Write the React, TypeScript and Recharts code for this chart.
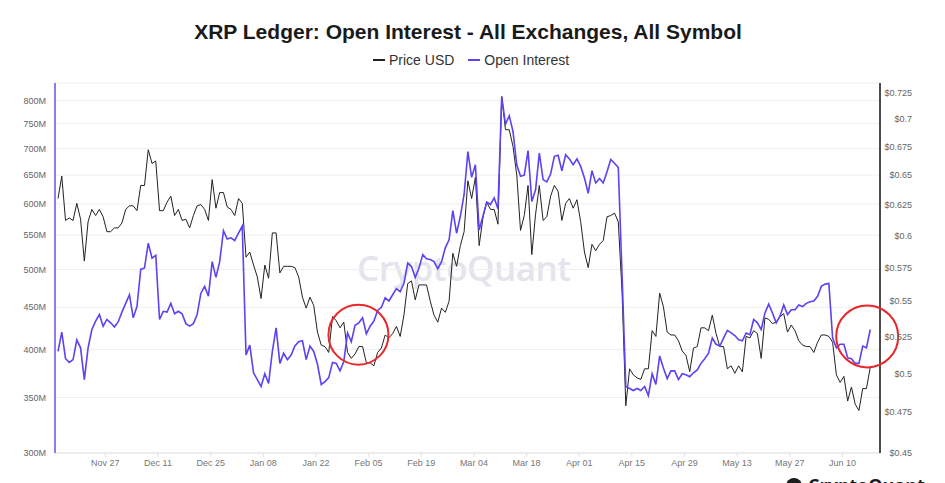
import React from "react";
import { CartesianGrid, Line, LineChart, ReferenceDot, XAxis, YAxis } from "recharts";

// daily values, first point ~Nov 14 2023, last ~Jun 17 2024
const priceUsd = [
  0.630, 0.649, 0.612, 0.614, 0.612, 0.626, 0.613, 0.580, 0.611, 0.621,
  0.616, 0.621, 0.615, 0.603, 0.603, 0.606, 0.606, 0.610, 0.621, 0.624,
  0.624, 0.620, 0.641, 0.641, 0.672, 0.660, 0.662, 0.620, 0.620, 0.627,
  0.632, 0.616, 0.621, 0.612, 0.613, 0.606, 0.616, 0.624, 0.625, 0.621,
  0.612, 0.646, 0.622, 0.635, 0.635, 0.623, 0.621, 0.616, 0.630, 0.626,
  0.583, 0.587, 0.577, 0.568, 0.552, 0.577, 0.567, 0.602, 0.602, 0.571,
  0.576, 0.576, 0.576, 0.575, 0.568, 0.553, 0.545, 0.553, 0.547, 0.528,
  0.519, 0.518, 0.514, 0.539, 0.536, 0.531, 0.535, 0.514, 0.510, 0.513,
  0.518, 0.518, 0.507, 0.507, 0.505, 0.514, 0.517, 0.526, 0.524, 0.527,
  0.532, 0.525, 0.540, 0.563, 0.565, 0.551, 0.562, 0.562, 0.562, 0.550,
  0.540, 0.535, 0.545, 0.542, 0.550, 0.586, 0.576, 0.592, 0.603, 0.645,
  0.630, 0.648, 0.592, 0.614, 0.627, 0.621, 0.621, 0.609, 0.721, 0.690,
  0.690, 0.675, 0.650, 0.604, 0.616, 0.641, 0.585, 0.617, 0.641, 0.612,
  0.615, 0.632, 0.641, 0.636, 0.612, 0.626, 0.630, 0.622, 0.629, 0.611,
  0.587, 0.575, 0.593, 0.588, 0.593, 0.596, 0.615, 0.616, 0.618, 0.611,
  0.557, 0.479, 0.503, 0.499, 0.497, 0.496, 0.503, 0.503, 0.529, 0.525,
  0.556, 0.546, 0.528, 0.526, 0.526, 0.522, 0.515, 0.512, 0.501, 0.517,
  0.518, 0.531, 0.531, 0.529, 0.540, 0.527, 0.518, 0.518, 0.503, 0.505,
  0.500, 0.505, 0.501, 0.525, 0.524, 0.529, 0.527, 0.510, 0.538, 0.537,
  0.534, 0.535, 0.539, 0.541, 0.528, 0.533, 0.529, 0.522, 0.519, 0.518,
  0.518, 0.514, 0.521, 0.526, 0.526, 0.525, 0.521, 0.499, 0.494, 0.498,
  0.482, 0.491, 0.480, 0.476, 0.490, 0.490, 0.504,
];

// open interest, millions USD
const openInterest = [
  398, 420, 390, 386, 389, 411, 402, 368, 402, 423,
  433, 441, 427, 435, 431, 426, 432, 444, 455, 466,
  437, 451, 500, 502, 538, 516, 520, 435, 445, 444,
  455, 442, 445, 442, 430, 427, 430, 441, 468, 477,
  464, 511, 489, 511, 557, 544, 546, 542, 553, 564,
  394, 405, 375, 368, 361, 374, 364, 398, 425, 385,
  396, 389, 394, 404, 409, 410, 389, 404, 398, 384,
  363, 366, 370, 386, 385, 377, 387, 419, 409, 428,
  431, 437, 418, 427, 433, 446, 450, 462, 458, 466,
  474, 470, 481, 509, 504, 489, 502, 521, 515, 514,
  511, 501, 511, 531, 543, 589, 553, 580, 616, 694,
  646, 669, 558, 580, 603, 599, 610, 592, 809, 749,
  767, 734, 669, 648, 650, 696, 604, 624, 691, 642,
  638, 652, 685, 687, 658, 688, 680, 669, 680, 666,
  645, 618, 658, 636, 644, 636, 656, 679, 672, 664,
  493, 361, 359, 357, 359, 357, 361, 352, 374, 363,
  393, 380, 369, 377, 377, 368, 374, 373, 371, 375,
  378, 385, 390, 396, 413, 406, 404, 413, 422, 419,
  416, 411, 410, 419, 417, 435, 431, 423, 443, 454,
  443, 431, 439, 453, 441, 447, 447, 453, 451, 455,
  457, 458, 464, 477, 480, 481, 413, 402, 406, 406,
  391, 390, 385, 385, 404, 402, 423,
];

const dateTicks = [12.6, 26.6, 40.6, 54.6, 68.6, 82.6, 96.6, 110.6, 124.6, 138.6, 152.6, 166.6, 180.6, 194.6, 208.6];
const dateLabels = ["Nov 27", "Dec 11", "Dec 25", "Jan 08", "Jan 22", "Feb 05", "Feb 19", "Mar 04", "Mar 18", "Apr 01", "Apr 15", "Apr 29", "May 13", "May 27", "Jun 10"];
const oiTicks = [300, 350, 400, 450, 500, 550, 600, 650, 700, 750, 800];
const priceTicks = [0.45, 0.475, 0.5, 0.525, 0.55, 0.575, 0.6, 0.625, 0.65, 0.675, 0.7, 0.725];

// highlighted spots (day index, open interest)
const circles = [
  { day: 79.9, oi: 417, r: 30 },
  { day: 215.2, oi: 415, r: 31 },
];

const data = priceUsd.map((p, i) => ({ day: i, price: p, oi: openInterest[i] }));

const FONT = "'Liberation Sans', Arial, sans-serif";
const BLUE = "#5a43f2";

export default function App() {
  return (
    <div style={{ position: "absolute", left: 0, top: 0, width: 945, height: 483, overflow: "hidden", background: "#fff", fontFamily: FONT }}>
      <div style={{ position: "absolute", left: 0, width: 936, top: 20, textAlign: "center", fontSize: 21, fontWeight: 700, color: "#1a1a1a", lineHeight: "24px" }}>
        XRP Ledger: Open Interest - All Exchanges, All Symbol
      </div>
      <div style={{ position: "absolute", left: 373, top: 52, display: "flex", alignItems: "center", fontSize: 14, color: "#333", lineHeight: "16px" }}>
        <span style={{ width: 12, height: 1.5, background: "#222", marginRight: 4 }} />
        <span style={{ marginRight: 14 }}>Price USD</span>
        <span style={{ width: 12, height: 2, background: BLUE, marginRight: 4 }} />
        <span>Open Interest</span>
      </div>
      <div style={{ position: "absolute", left: 357, top: 244, fontSize: 35, fontFamily: "'Open Sans', sans-serif", fontWeight: 600, color: "#e4e4ec", letterSpacing: -0.5 }}>
        CryptoQuant
      </div>
      <div style={{ position: "absolute", left: 0, top: 0 }}>
        <LineChart width={945} height={483} data={data} margin={{ top: 83, right: 0, bottom: 0, left: 0 }}>
          <CartesianGrid yAxisId="left" vertical={false} stroke="#efefef" />
          <XAxis
            dataKey="day"
            type="number"
            domain={[-0.8, 218.6]}
            ticks={dateTicks}
            tickFormatter={(v: number) => dateLabels[dateTicks.indexOf(v)]}
            height={30}
            stroke="#e3e3e3"
            tickSize={4}
            tickMargin={3}
            tick={{ fill: "#777", fontSize: 9, fontFamily: FONT }}
          />
          <YAxis
            yAxisId="left"
            orientation="left"
            scale="log"
            domain={[300, 840]}
            allowDataOverflow
            ticks={oiTicks}
            width={55}
            axisLine={{ stroke: "#8c7ef0", strokeWidth: 2 }}
            tickLine={false}
            tickMargin={3}
            tickFormatter={(v: number) => `${v}M`}
            tick={{ fill: "#666", fontSize: 9, fontFamily: FONT }}
          />
          <YAxis
            yAxisId="right"
            orientation="right"
            scale="log"
            domain={[0.45, 0.734]}
            allowDataOverflow
            ticks={priceTicks}
            width={65}
            axisLine={{ stroke: "#111", strokeWidth: 1.5 }}
            tickLine={false}
            tickMargin={26}
            tickFormatter={(v: number) => `$${v}`}
            tick={{ fill: "#666", fontSize: 9, fontFamily: FONT, textAnchor: "end" }}
          />
          <Line yAxisId="right" dataKey="price" stroke="#222" strokeWidth={1} dot={false} isAnimationActive={false} />
          <Line yAxisId="left" dataKey="oi" stroke={BLUE} strokeWidth={1.6} dot={false} isAnimationActive={false} />
          {circles.map((c, i) => (
            <ReferenceDot key={i} yAxisId="left" x={c.day} y={c.oi} r={c.r} fill="none" stroke="#e8272b" strokeWidth={2} ifOverflow="visible" />
          ))}
        </LineChart>
      </div>
      <div style={{ position: "absolute", left: 786, top: 474, display: "flex", alignItems: "flex-start", color: "#1c1c1c" }}>
        <span style={{ width: 16, height: 16, borderRadius: 8, background: "#1c1c1c", marginRight: 6, marginTop: 4 }} />
        <span style={{ fontSize: 18, fontWeight: 700, fontFamily: "'Open Sans', sans-serif", lineHeight: "22px" }}>CryptoQuant</span>
      </div>
    </div>
  );
}
